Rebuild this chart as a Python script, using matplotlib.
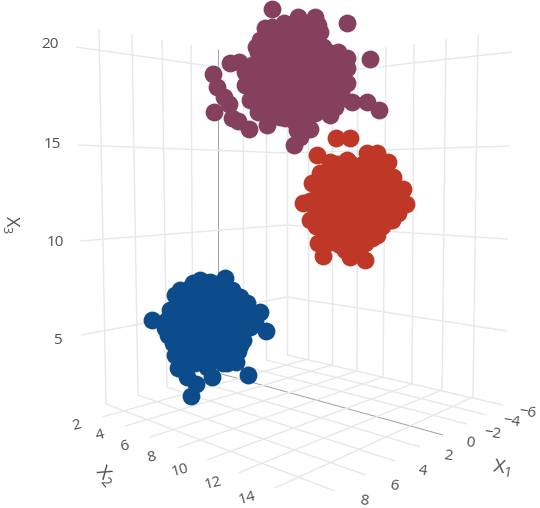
import matplotlib
matplotlib.use("Agg")
import matplotlib.pyplot as plt

plt.rcParams['font.family'] = ['Open Sans', 'DejaVu Sans']

purple_pts = [
    (272, 9), (265, 28), (260, 40), (347, 23), (370, 59), (284, 23), (298, 17), (315, 17),
    (320, 32), (323, 47), (338, 52), (347, 58), (347, 68), (347, 83), (352, 102), (367, 102),
    (379, 110), (335, 107), (330, 115), (315, 113), (295, 113), (297, 130), (310, 129),
    (294, 145), (300, 137), (267, 125), (280, 117),
    (213, 74), (217, 87), (224, 97), (229, 104), (214, 112), (232, 118), (238, 121), (249, 129),
    (230, 63), (239, 62), (245, 72), (245, 85), (250, 100), (258, 112),
    (270, 40), (285, 40), (300, 40), (312, 40),
    (258, 52), (272, 52), (286, 52), (300, 52), (314, 52), (328, 52),
    (252, 65), (266, 65), (280, 65), (294, 65), (308, 65), (322, 65), (336, 65),
    (250, 78), (264, 78), (278, 78), (292, 78), (306, 78), (320, 78), (334, 78),
    (254, 90), (268, 90), (282, 90), (296, 90), (310, 90), (324, 90), (338, 90),
    (260, 102), (274, 102), (288, 102), (302, 102), (316, 102), (330, 102),
    (268, 113), (282, 113), (296, 113),
    (278, 34), (292, 34), (306, 34), (272, 27), (290, 28), (305, 27), (318, 25), (256, 47),
    (265, 46), (279, 46), (293, 46), (307, 46), (321, 46),
    (259, 58), (273, 58), (287, 58), (301, 58), (315, 58), (329, 58), (341, 60),
    (258, 71), (272, 71), (286, 71), (300, 71), (314, 71), (328, 71), (342, 75),
    (257, 84), (271, 84), (285, 84), (299, 84), (313, 84), (327, 84), (341, 92),
    (261, 96), (275, 96), (289, 96), (303, 96), (317, 96), (331, 96), (342, 98),
    (264, 108), (278, 108), (292, 108), (306, 108), (320, 108),
    (270, 118), (285, 118), (305, 118), (322, 110), (295, 122),
]
red_pts = [
    (336, 138), (350, 138), (317, 155), (330, 162), (347, 160), (367, 153), (377, 153),
    (388, 162), (393, 177), (403, 189), (406, 204), (398, 213), (392, 220), (377, 235),
    (318, 243), (323, 256), (350, 257), (365, 260), (310, 220), (303, 203), (312, 183),
    (320, 173), (327, 233), (357, 247), (337, 243),
    (328, 170), (342, 170), (356, 170), (370, 170), (384, 170),
    (325, 182), (339, 182), (353, 182), (367, 182), (381, 182), (393, 182),
    (318, 195), (332, 195), (346, 195), (360, 195), (374, 195), (388, 195), (398, 195),
    (315, 208), (329, 208), (343, 208), (357, 208), (371, 208), (385, 208), (395, 208),
    (322, 220), (336, 220), (350, 220), (364, 220), (378, 220), (390, 220),
    (330, 232), (344, 232), (358, 232), (372, 232),
    (340, 245), (354, 245),
    (337, 164), (351, 164), (363, 164), (377, 164),
    (330, 176), (345, 176), (360, 176), (375, 176), (388, 176),
    (322, 189), (336, 189), (350, 189), (364, 189), (378, 189), (391, 189),
    (310, 201), (324, 201), (338, 201), (352, 201), (366, 201), (380, 201), (394, 201),
    (318, 214), (332, 214), (346, 214), (360, 214), (374, 214), (388, 214),
    (316, 226), (328, 226), (340, 226), (354, 226), (368, 226), (382, 226),
    (334, 238), (348, 238), (362, 238), (372, 238),
    (345, 250), (352, 250), (365, 243), (327, 243),
]
blue_pts = [
    (191, 396), (196, 384), (212, 377), (248, 375), (152, 320), (167, 320), (180, 290),
    (200, 280), (225, 278), (220, 283), (240, 297), (247, 303), (260, 312), (266, 331),
    (250, 327), (243, 340), (233, 360), (227, 363), (178, 368), (180, 358), (173, 343),
    (165, 328), (177, 305), (187, 377), (207, 367),
    (195, 295), (210, 295), (225, 295),
    (182, 308), (196, 308), (210, 308), (224, 308), (238, 308),
    (178, 320), (192, 320), (206, 320), (220, 320), (234, 320), (248, 320),
    (172, 332), (186, 332), (200, 332), (214, 332), (228, 332), (242, 332),
    (180, 345), (194, 345), (208, 345), (222, 345), (236, 345),
    (188, 357), (202, 357), (216, 357), (230, 357),
    (190, 288), (205, 288), (218, 288),
    (188, 302), (203, 302), (217, 302), (231, 302),
    (172, 314), (186, 314), (200, 314), (214, 314), (228, 314), (242, 314), (252, 314),
    (176, 326), (193, 326), (207, 326), (221, 326), (235, 326), (250, 326),
    (178, 339), (190, 339), (204, 339), (218, 339), (232, 339),
    (186, 351), (200, 351), (214, 351), (228, 351), (238, 351),
    (195, 363), (209, 363), (223, 363),
    (240, 305), (255, 320), (175, 295), (170, 310), (168, 335), (175, 355), (240, 345),
    (232, 290), (185, 368), (210, 282), (193, 283), (236, 362),
]

x1_ticks = ['\u22126', '\u22124', '\u22122', '0', '2', '4', '6', '8']
x2_ticks = ['2', '4', '6', '8', '10', '12', '14']
x3_ticks = ['20', '15', '10', '5']

# X1 gridlines, floor and left wall
x1_wall_top = [(287, 62), (266, 58), (243, 53), (218, 49), (191, 45), (162, 40), (132, 35), (99, 29)]
x1_wall_bottom = [(287, 355), (266, 360), (243, 366), (218, 373), (193, 380), (167, 387), (138, 395), (106, 404)]
x1_floor_end = [(503, 405), (487, 415), (467, 424), (443, 435), (420, 447), (395, 461), (366, 475), (335, 491)]
x1_label_pos = [(527, 413), (511, 422), (492, 434), (470, 443), (448, 456), (422, 471), (394, 486), (364, 501)]

# X2 gridlines, floor and right wall
x2_wall_top = [(308, 58), (332, 55), (358, 52), (386, 47), (414, 44), (446, 39), (478, 34)]
x2_wall_bottom = [(308, 359), (332, 365), (357, 371), (383, 377), (412, 384), (442, 390), (473, 397)]
x2_floor_end = [(102, 417), (125, 426), (150, 437), (177, 448), (207, 460), (238, 473), (275, 488)]
x2_label_pos = [(77, 425), (100, 435), (124, 446), (152, 458), (180, 470), (213, 483), (247, 498)]

# X3 gridlines, tick end / corner / far end
x3_left_end = [(76, 47), (78, 145), (80, 241), (81, 335)]
x3_corner = [(287, 77), (287, 153), (287, 225), (287, 297)]
x3_right_end = [(512, 52), (510, 146), (508, 239), (507, 331)]
x3_label_pos = [(50, 44), (52, 145), (55, 243), (57, 340)]

GRID = '#e8e8e8'
ZERO = '#a0a0a0'
TEXT = '#505050'


def seg(ax, a, b, color=GRID, lw=1.0):
    ax.plot([a[0], b[0]], [a[1], b[1]], color=color, lw=lw, solid_capstyle='butt', zorder=1)


def dots(ax, pts, color):
    ax.scatter([p[0] for p in pts], [p[1] for p in pts], s=165, color=color, linewidths=0, zorder=3)


fig = plt.figure(figsize=(5.4, 5.08), dpi=100)
ax = fig.add_axes([0, 0, 1, 1])
ax.set_xlim(0, 540)
ax.set_ylim(508, 0)
ax.axis('off')

for i in range(len(x1_ticks)):
    if x1_ticks[i] == '0':
        seg(ax, x1_wall_top[i], x1_wall_bottom[i], ZERO, 0.7)
        seg(ax, x1_wall_bottom[i], x1_floor_end[i], ZERO, 0.7)
    else:
        seg(ax, x1_wall_top[i], x1_wall_bottom[i])
        seg(ax, x1_wall_bottom[i], x1_floor_end[i])
    ax.text(*x1_label_pos[i], x1_ticks[i], color=TEXT, fontsize=11, ha='center', va='center', rotation=-8)

for i in range(len(x2_ticks)):
    seg(ax, x2_wall_top[i], x2_wall_bottom[i])
    seg(ax, x2_wall_bottom[i], x2_floor_end[i])
    ax.text(*x2_label_pos[i], x2_ticks[i], color=TEXT, fontsize=11, ha='center', va='center', rotation=15)

for i in range(len(x3_ticks)):
    seg(ax, x3_left_end[i], x3_corner[i])
    seg(ax, x3_corner[i], x3_right_end[i])
    ax.text(*x3_label_pos[i], x3_ticks[i], color=TEXT, fontsize=11, ha='center', va='center')

dots(ax, purple_pts, '#84405c')
dots(ax, red_pts, '#bf3727')
dots(ax, blue_pts, '#0c4c8a')

ax.text(502, 468, r'$\mathregular{X_1}$', color=TEXT, fontsize=14, ha='center', va='center', rotation=-10)
ax.text(105, 475, r'$\mathregular{X_2}$', color=TEXT, fontsize=14, ha='center', va='center', rotation=-50)
ax.text(11, 225, r'$\mathregular{X_3}$', color=TEXT, fontsize=13, ha='center', va='center', rotation=-90)

fig.savefig('out.png', dpi=100)
